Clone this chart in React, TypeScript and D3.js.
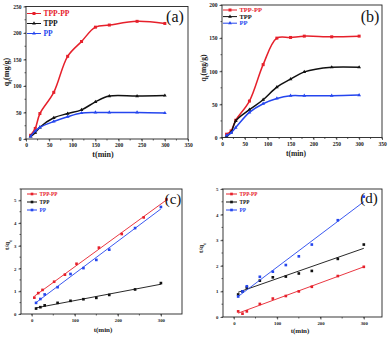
import React, { useEffect, useRef } from 'react';
import * as d3 from 'd3';

const RED = '#e6202b';
const BLACK = '#111111';
const BLUE = '#2546ee';
const names = ['TPP-PP', 'TPP', 'PP'];

// sampling times (min)
const times = [10, 20, 30, 60, 90, 120, 150, 180, 240, 300];
const timesTppPpC = [6, 15, 25, 52, 77, 104, 156, 209, 260, 313];

// (a) qt (mg/g)
const aTppPp = [7, 20, 48, 88, 156, 184, 211, 215, 222, 218];
const aTpp = [5, 12, 22, 40, 48, 55, 70, 81, 81, 82];
const aPp = [5, 15, 22, 33, 42, 49, 50, 50, 50, 49];

// (b) qt (mg/g)
const bTppPp = [5, 10, 26, 55, 110, 150, 151, 153, 152, 153];
const bTpp = [2, 8, 25, 42, 57, 76, 88, 99, 106, 106];
const bPp = [3, 7, 15, 38, 51, 59, 63, 63, 63, 64];

// (c) t/qt
const cTppPp = [0.72, 0.92, 1.06, 1.42, 1.73, 2.21, 2.92, 3.52, 4.25, 5.04];
const cTpp = [0.24, 0.3, 0.38, 0.49, 0.58, 0.65, 0.71, 0.84, 1.08, 1.36];
const cPp = [0.49, 0.66, 0.86, 1.18, 1.76, 2.02, 2.38, 2.83, 3.78, 4.71];

// (d) t/qt
const dTppPp = [0.22, 0.13, 0.22, 0.51, 0.72, 0.82, 1.0, 1.18, 1.6, 1.96];
const dTpp = [0.88, 1.0, 1.15, 1.42, 1.55, 1.58, 1.7, 1.8, 2.27, 2.83];
const dPp = [0.8, 1.0, 1.2, 1.57, 1.77, 2.03, 2.37, 2.83, 3.78, 4.7];

const xTicksQ = [0, 50, 100, 150, 200, 250, 300, 350];
const xTicksL = [0, 100, 200, 300];
const yTicksA = [0, 50, 100, 150, 200, 250];
const yTicksB = [0, 50, 100, 150, 200];
const yTicksL = [0, 1, 2, 3, 4, 5];

const FONT = "'Liberation Serif', 'Times New Roman', serif";

const panels = [
  {
    tag: '(a)', tagX: 175, tagY: 22, tagSize: 16,
    box: [26, 188, 6.5, 139], xDomain: [0, 350], yDomain: [0, 250],
    xTicks: xTicksQ, xMinor: 25, yTicks: yTicksA, yMinor: 25, tickSize: 5.5,
    mode: 'curve',
    series: [
      { t: times, v: aTppPp, color: RED, sym: 'square' },
      { t: times, v: aTpp, color: BLACK, sym: 'tri' },
      { t: times, v: aPp, color: BLUE, sym: 'tri' },
    ],
    legend: { x: 27, y: 13.5, dy: 10, len: 14, size: 7.5 },
    xLabel: [103, 157], yLabel: [6.5, 72], yText: ['q', 't', '(mg/g)'], labelSize: 8, lw: 1.5,
  },
  {
    tag: '(b)', tagX: 370, tagY: 21.5, tagSize: 16,
    box: [222, 382, 5, 137.5], xDomain: [0, 350], yDomain: [0, 200],
    xTicks: xTicksQ, xMinor: 25, yTicks: yTicksB, yMinor: 25, tickSize: 5.5,
    mode: 'curve',
    series: [
      { t: times, v: bTppPp, color: RED, sym: 'square' },
      { t: times, v: bTpp, color: BLACK, sym: 'tri' },
      { t: times, v: bPp, color: BLUE, sym: 'tri' },
    ],
    legend: { x: 223, y: 10, dy: 6.6, len: 14, size: 6.5 },
    xLabel: [296, 156], yLabel: [203.5, 68], yText: ['q', 't', '(mg/g)'], labelSize: 7.5, lw: 1.5,
  },
  {
    tag: '(c)', tagX: 173, tagY: 204, tagSize: 15,
    box: [21, 182, 189, 314], xDomain: [-25, 349], yDomain: [0, 5.5],
    xTicks: xTicksL, xMinor: 50, yTicks: yTicksL, yMinor: 0.5, tickSize: 4.8,
    mode: 'fit',
    series: [
      { t: timesTppPpC, v: cTppPp, color: RED, sym: 'square' },
      { t: times, v: cTpp, color: BLACK, sym: 'square' },
      { t: times, v: cPp, color: BLUE, sym: 'square' },
    ],
    legend: { x: 27, y: 194, dy: 8, len: 10, size: 5.2 },
    xLabel: [103, 332], yLabel: [7, 245], yText: ['t/q', 't', ''], labelSize: 7, lw: 0.9,
  },
  {
    tag: '(d)', tagX: 369, tagY: 203, tagSize: 15,
    box: [223, 382, 189, 317], xDomain: [-25, 342], yDomain: [0, 5],
    xTicks: xTicksL, xMinor: 50, yTicks: yTicksL, yMinor: 0.5, tickSize: 4.8,
    mode: 'fit',
    series: [
      { t: times, v: dTppPp, color: RED, sym: 'square' },
      { t: times, v: dTpp, color: BLACK, sym: 'square' },
      { t: times, v: dPp, color: BLUE, sym: 'square' },
    ],
    legend: { x: 226, y: 194, dy: 8, len: 11, size: 5.2 },
    xLabel: [300, 333], yLabel: [201, 248], yText: ['t/q', 't', ''], labelSize: 7, lw: 0.9,
  },
];

function drawPanel(root: any, p: any) {
  const [x0, x1, y0, y1] = p.box;
  const x = d3.scaleLinear().domain(p.xDomain).range([x0, x1]);
  const y = d3.scaleLinear().domain(p.yDomain).range([y1, y0]);
  const g = root.append('g');

  // minor ticks
  for (let v = p.xTicks[0]; v <= p.xDomain[1] + 1e-6; v += p.xMinor) {
    g.append('line').attr('x1', x(v)).attr('x2', x(v)).attr('y1', y1).attr('y2', y1 + 1.5)
      .attr('stroke', '#222').attr('stroke-width', 0.7);
  }
  for (let v = p.yDomain[0]; v <= p.yDomain[1] + 1e-6; v += p.yMinor) {
    g.append('line').attr('x1', x0 - 1.5).attr('x2', x0).attr('y1', y(v)).attr('y2', y(v))
      .attr('stroke', '#222').attr('stroke-width', 0.7);
  }

  const xAxis = d3.axisBottom(x).tickValues(p.xTicks).tickSize(2.5).tickPadding(2).tickFormat(d3.format('d'));
  const yAxis = d3.axisLeft(y).tickValues(p.yTicks).tickSize(2.5).tickPadding(2).tickFormat(d3.format('d'));
  const styleAxis = (s: any) => {
    s.select('.domain').remove();
    s.selectAll('line').attr('stroke', '#222').attr('stroke-width', 0.7);
    s.selectAll('text').attr('font-family', FONT).attr('font-weight', 'bold')
      .attr('font-size', p.tickSize).attr('fill', '#222');
  };
  g.append('g').attr('transform', `translate(0,${y1})`).call(xAxis).call(styleAxis);
  g.append('g').attr('transform', `translate(${x0},0)`).call(yAxis).call(styleAxis);

  g.append('rect').attr('x', x0).attr('y', y0).attr('width', x1 - x0).attr('height', y1 - y0)
    .attr('fill', 'none').attr('stroke', '#222').attr('stroke-width', 0.9);

  const symSq = d3.symbol().type(d3.symbolSquare).size(p.mode === 'curve' ? 9 : 7);
  const symTri = d3.symbol().type(d3.symbolTriangle).size(6);

  p.series.forEach((s: any) => {
    const pts = s.t.map((t: number, i: number) => [t, s.v[i]]);
    if (p.mode === 'curve') {
      const line = d3.line().x((d: any) => x(d[0])).y((d: any) => y(d[1])).curve(d3.curveCatmullRom.alpha(0.5));
      g.append('path').attr('d', line(pts)).attr('fill', 'none').attr('stroke', s.color).attr('stroke-width', p.lw);
    } else {
      const mt = d3.mean(s.t) as number;
      const mv = d3.mean(s.v) as number;
      const num = d3.sum(pts, (d: any) => (d[0] - mt) * (d[1] - mv));
      const den = d3.sum(pts, (d: any) => (d[0] - mt) ** 2);
      const k = num / den;
      const b = mv - k * mt;
      const ta = d3.min(s.t) as number;
      const tb = d3.max(s.t) as number;
      g.append('line').attr('x1', x(ta)).attr('y1', y(k * ta + b)).attr('x2', x(tb)).attr('y2', y(k * tb + b))
        .attr('stroke', s.color).attr('stroke-width', p.lw);
    }
    g.selectAll(null).data(pts).enter().append('path')
      .attr('transform', (d: any) => `translate(${x(d[0])},${y(d[1])})`)
      .attr('d', (s.sym === 'square' ? symSq : symTri)())
      .attr('fill', s.color);
  });

  // legend
  const L = p.legend;
  p.series.forEach((s: any, i: number) => {
    const ly = L.y + i * L.dy;
    g.append('line').attr('x1', L.x).attr('x2', L.x + L.len).attr('y1', ly).attr('y2', ly)
      .attr('stroke', s.color).attr('stroke-width', 1);
    g.append('path').attr('transform', `translate(${L.x + L.len / 2},${ly})`)
      .attr('d', (s.sym === 'square' ? symSq : symTri)()).attr('fill', s.color);
    g.append('text').attr('x', L.x + L.len + 2.5).attr('y', ly).attr('dy', '0.35em')
      .attr('font-family', FONT).attr('font-weight', 'bold').attr('font-size', L.size)
      .attr('fill', s.color).text(names[i]);
  });

  // panel tag
  g.append('text').attr('x', p.tagX).attr('y', p.tagY).attr('text-anchor', 'middle')
    .attr('font-family', FONT).attr('font-size', p.tagSize).attr('fill', '#111').text(p.tag);

  // axis labels
  g.append('text').attr('x', p.xLabel[0]).attr('y', p.xLabel[1]).attr('text-anchor', 'middle')
    .attr('font-family', FONT).attr('font-weight', 'bold').attr('font-size', p.labelSize)
    .attr('fill', '#222').text('t(min)');
  const yl = g.append('text').attr('transform', `translate(${p.yLabel[0]},${p.yLabel[1]}) rotate(-90)`)
    .attr('text-anchor', 'middle').attr('dy', '0.35em')
    .attr('font-family', FONT).attr('font-weight', 'bold').attr('font-size', p.labelSize).attr('fill', '#222');
  yl.append('tspan').text(p.yText[0]);
  yl.append('tspan').attr('baseline-shift', 'sub').attr('font-size', p.labelSize * 0.7).text(p.yText[1]);
  if (p.yText[2]) yl.append('tspan').text(p.yText[2]);
}

export default function App() {
  const ref = useRef<SVGSVGElement>(null);
  useEffect(() => {
    const svg = d3.select(ref.current);
    svg.selectAll('*').remove();
    panels.forEach((p) => drawPanel(svg, p));
  }, []);
  return (
    <svg ref={ref} width={389} height={338}
      style={{ position: 'absolute', left: 0, top: 0, background: '#fff' }} />
  );
}
